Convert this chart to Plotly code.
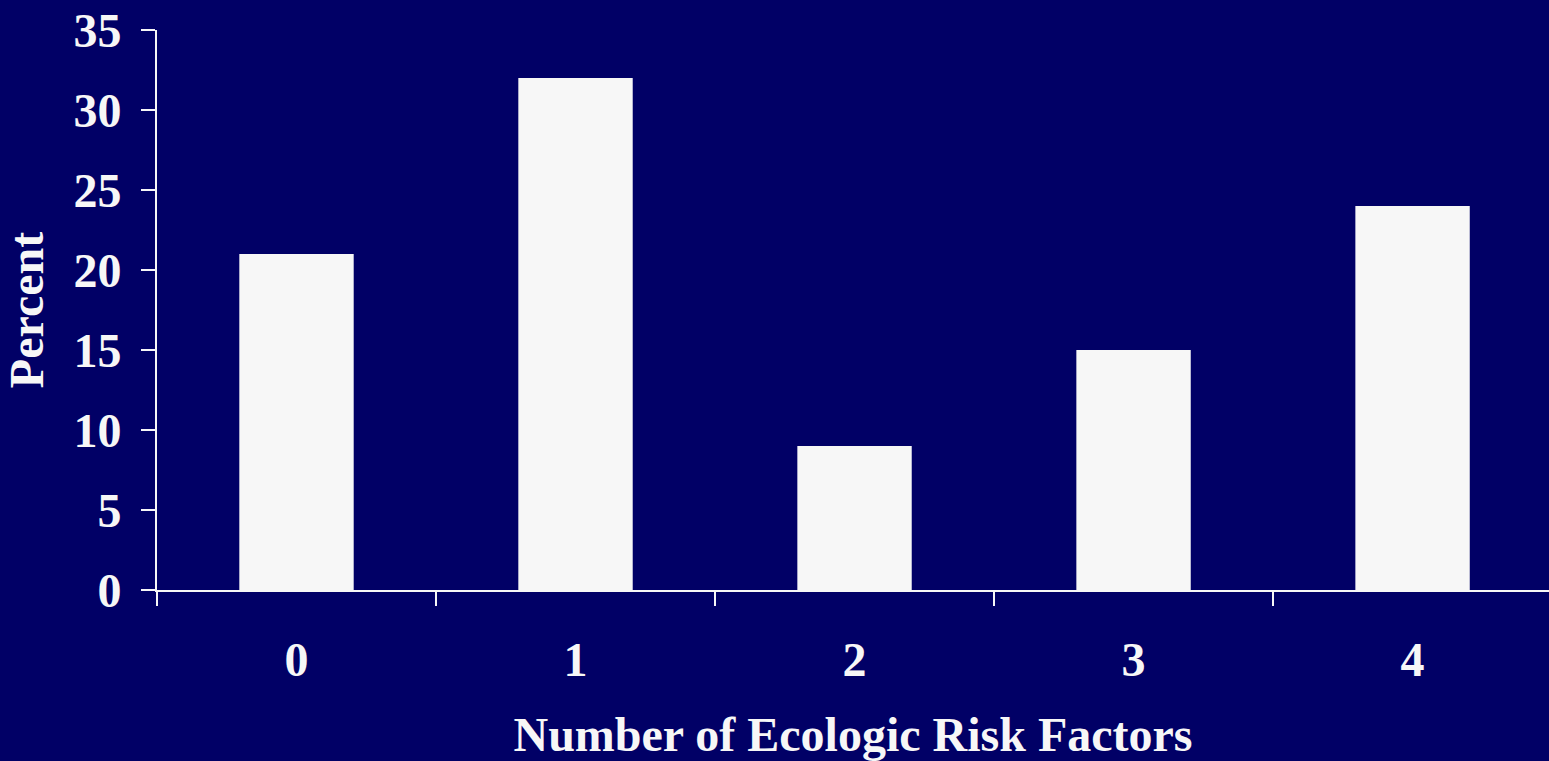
import plotly.graph_objects as go

categories = ["0", "1", "2", "3", "4"]
percent = [21, 32, 9, 15, 24]
y_ticks = [0, 5, 10, 15, 20, 25, 30, 35]

BG = "#010066"
FG = "#f7f7f7"
FONT = "Liberation Serif, Times New Roman, serif"

fig = go.Figure(go.Bar(x=categories, y=percent, marker=dict(color=FG, line=dict(width=0))))

fig.update_layout(
    width=1549, height=761,
    paper_bgcolor=BG, plot_bgcolor=BG,
    margin=dict(l=157, r=0, t=30, b=171),
    bargap=0.59,
    showlegend=False,
    font=dict(family=FONT, color=FG, size=48, weight="bold"),
)
fig.update_xaxes(
    type="category",
    range=[-0.5, 4.489],
    showline=True, linecolor=FG, linewidth=2,
    ticks="outside", tickson="boundaries", ticklen=14, tickwidth=2, tickcolor=FG,
    showgrid=False, zeroline=False,
    tickfont=dict(family=FONT, size=48, color=FG, weight="bold"),
    ticklabelstandoff=26,
    title=dict(text="Number of Ecologic Risk Factors", standoff=34,
               font=dict(family=FONT, size=48, color=FG, weight="bold")),
)
fig.update_yaxes(
    range=[0, 35],
    tickvals=y_ticks,
    showline=True, linecolor=FG, linewidth=2,
    ticks="outside", ticklen=14, tickwidth=2, tickcolor=FG,
    showgrid=False, zeroline=False,
    tickfont=dict(family=FONT, size=48, color=FG, weight="bold"),
    ticklabelstandoff=10,
    title=dict(text="Percent", standoff=28,
               font=dict(family=FONT, size=48, color=FG, weight="bold")),
)

fig.write_html("out.html")
